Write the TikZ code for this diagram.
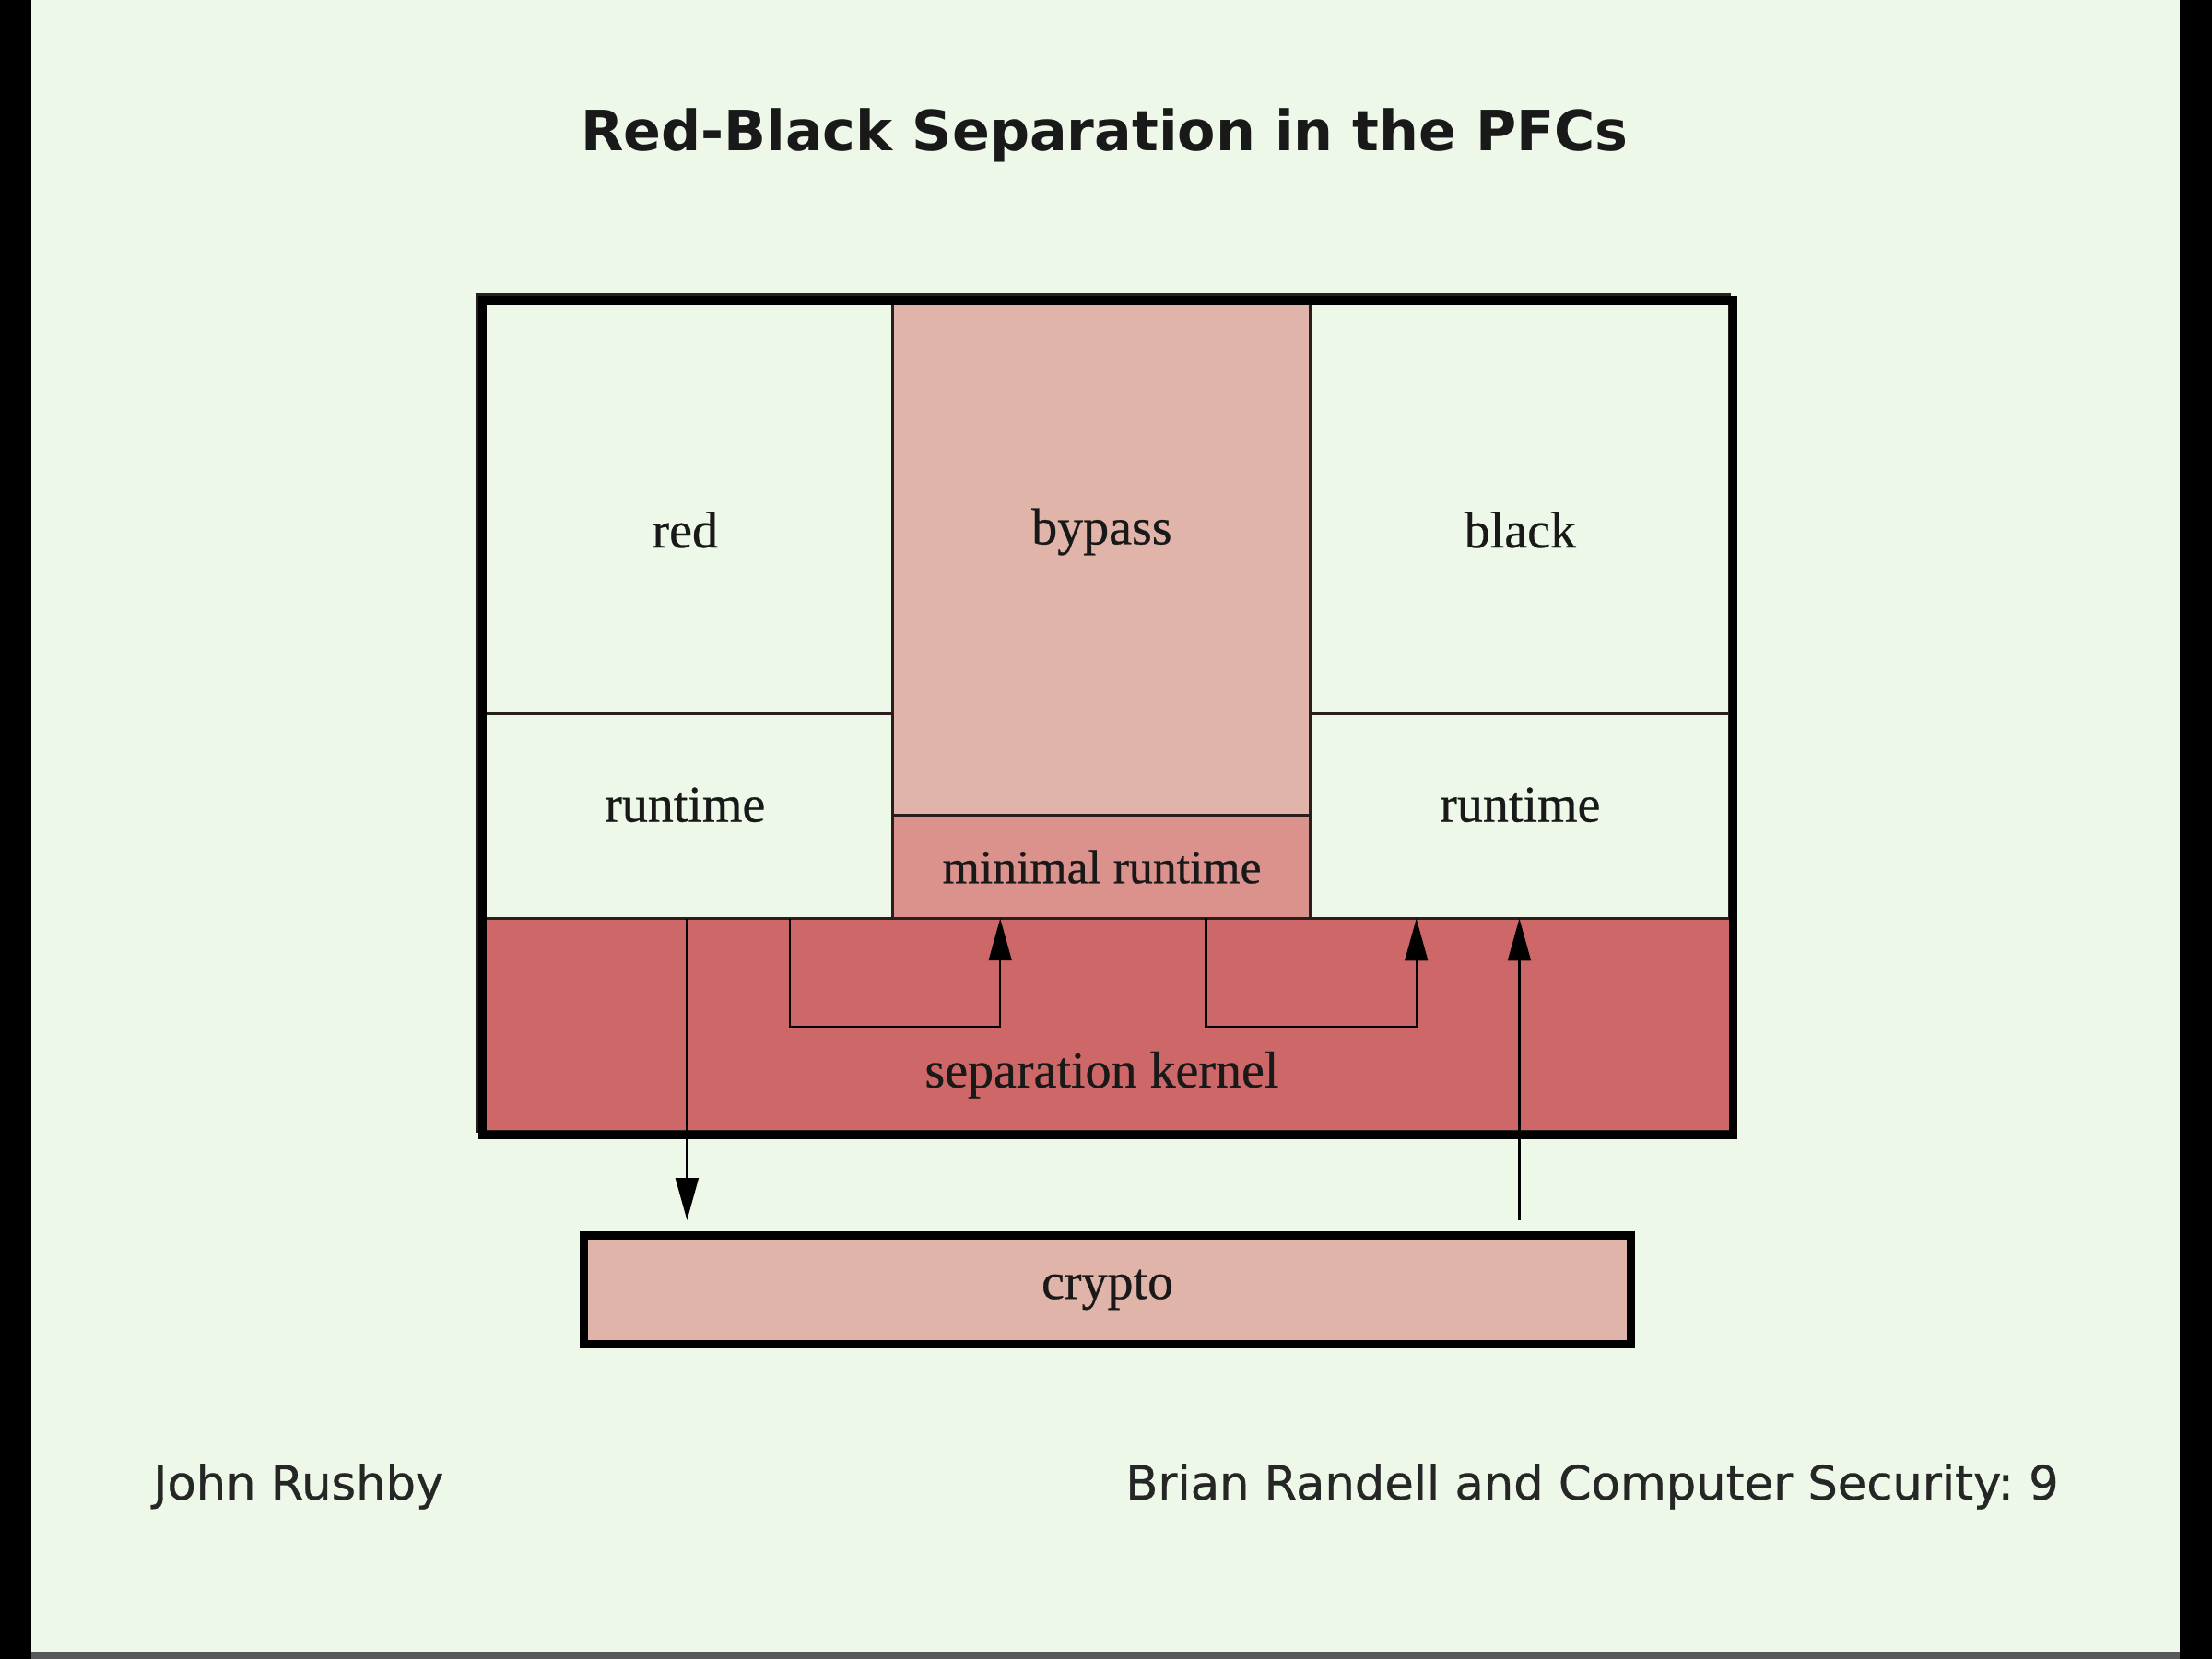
\documentclass[tikz,border=0pt]{standalone}
\usepackage{fontspec}
\setmainfont{Liberation Serif}[FakeBold=0.5]
\newfontfamily\titlefont{DejaVu Sans}
\newfontfamily\footfont{DejaVu Sans}[FakeBold=0.6]
\usetikzlibrary{arrows.meta,calc}
\definecolor{bgc}{RGB}{238,248,232}
\definecolor{bypassc}{RGB}{224,180,168}
\definecolor{minrtc}{RGB}{220,146,140}
\definecolor{kernelc}{RGB}{206,104,104}
\definecolor{linec}{RGB}{40,30,30}
\begin{document}
\begin{tikzpicture}[x=0.01cm,y=-0.01cm,
  cell/.style={draw=linec,line width=0.6pt,anchor=north west,inner sep=0pt,outer sep=0pt},
  lbl/.style={font=\fontsize{10.4}{12}\selectfont,text=black!90,inner sep=0pt},
  arr/.style={draw=black,line width=0.45pt,-{Triangle[length=8.5pt,width=4.6pt]}},
  plain/.style={draw=black,line width=0.45pt}]
\useasboundingbox (0,0) rectangle (1568,1176);
% background
\fill[bgc] (0,0) rectangle (1568,1176);
\fill[black] (0,0) rectangle (22,1176);
\fill[black] (1545,0) rectangle (1568,1176);
\fill[black!65] (22,1171) rectangle (1545,1176);
% title and footer
\node[font=\titlefont\bfseries\fontsize{11.2}{14}\selectfont,text=black!90] (title) at (783,96) {Red-Black Separation in the PFCs};
\node[font=\footfont\fontsize{9.5}{11}\selectfont,text=black!85,anchor=base west,inner sep=0pt] (author) at (108,1063) {John Rushby};
\node[font=\footfont\fontsize{9.5}{11}\selectfont,text=black!85,anchor=base east,inner sep=0pt] (talk) at (1460,1063) {Brian Randell and Computer Security:\ 9};
% cells
\node[cell,fill=bgc,minimum width=2.95cm,minimum height=2.97cm] (redtop) at (338,209) {};
\node[cell,fill=bgc,minimum width=2.95cm,minimum height=1.45cm] (redrt) at (338,506) {};
\node[cell,fill=bypassc,minimum width=2.96cm,minimum height=3.69cm] (bypass) at (633,209) {};
\node[cell,fill=minrtc,minimum width=2.96cm,minimum height=0.73cm] (minrt) at (633,578) {};
\node[cell,fill=bgc,minimum width=2.97cm,minimum height=2.97cm] (blacktop) at (929,209) {};
\node[cell,fill=bgc,minimum width=2.97cm,minimum height=1.45cm] (blackrt) at (929,506) {};
\node[cell,fill=kernelc,minimum width=8.88cm,minimum height=1.51cm] (kernel) at (338,651) {};
% labels
\node[lbl] (tred) at ([yshift=-0.18cm]redtop.center) {red};
\node[lbl] (tbypass) at (781,377) {bypass};
\node[lbl] (tblack) at ([yshift=-0.18cm]blacktop.center) {black};
\node[lbl] (tredrt) at ([yshift=0.08cm]redrt.center) {runtime};
\node[lbl] (tblackrt) at ([yshift=0.08cm]blackrt.center) {runtime};
\node[lbl,font=\fontsize{9.6}{12}\selectfont] (tminrt) at (minrt.center) {minimal runtime};
\node[lbl] (tkernel) at (781,762) {separation kernel};
% crypto
\node[draw=black,line width=1.6pt,fill=bypassc,anchor=north west,minimum width=7.42cm,minimum height=0.77cm,inner sep=0pt] (crypto) at (411,873) {};
\node[lbl] (tcrypto) at (crypto.center) {crypto};
% connector anchor points
\coordinate (dsrc) at (redrt.south -| 487,0);
\coordinate (l1a) at (redrt.south -| 560,0);
\coordinate (l1b) at (560,728);
\coordinate (l1c) at (709,728);
\coordinate (l2a) at (855,651);
\coordinate (l2b) at (855,728);
\coordinate (l2c) at (1004,728);
\coordinate (upx) at (1077,0);
% connectors
\draw[arr] (dsrc) -- ([yshift=0.08cm]dsrc |- crypto.north);
\draw[plain] ([yshift=0.08cm]upx |- crypto.north) -- (upx |- kernel.south);
\draw[arr] (upx |- kernel.south) -- (upx |- blackrt.south);
\draw[arr] (l1a) -- (l1b) -- (l1c) -- (l1c |- minrt.south);
\draw[arr] (l2a) -- (l2b) -- (l2c) -- (l2c |- blackrt.south);
% outer frame
\node[draw=black,line width=1.7pt,anchor=north west,minimum width=8.86cm,minimum height=5.91cm,inner sep=0pt] (frame) at (339,210) {};
\end{tikzpicture}
\end{document}
